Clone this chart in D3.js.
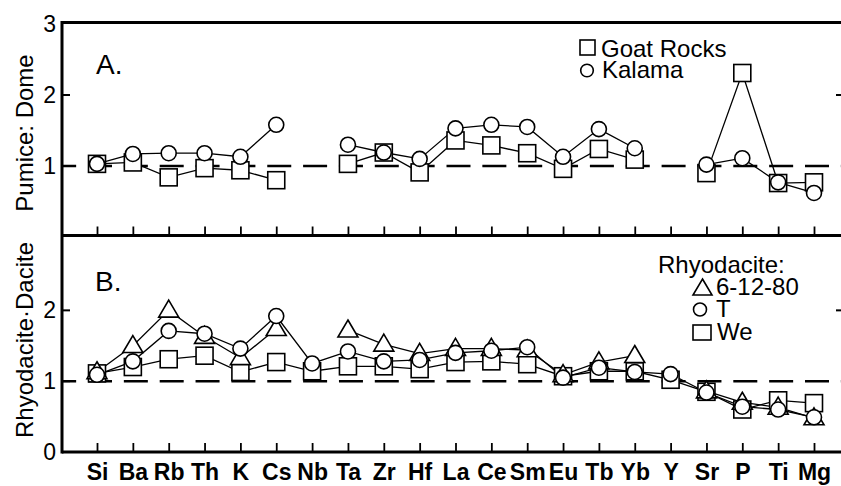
<!DOCTYPE html>
<html>
<head>
<meta charset="utf-8">
<script src="https://cdn.jsdelivr.net/npm/d3@7"></script>
<style>
  html, body { margin: 0; padding: 0; background: #fff; }
  svg { display: block; font-family: "Liberation Sans", Arial, Helvetica, sans-serif; }
</style>
</head>
<body>
<svg id="chart" width="841" height="486"></svg>
<script>
// ---------- data ----------
const categories = ["Si","Ba","Rb","Th","K","Cs","Nb","Ta","Zr","Hf","La","Ce","Sm","Eu","Tb","Yb","Y","Sr","P","Ti","Mg"];

// Panel A: Pumice : Dome
const goatRocks = [1.03,1.05,0.84,0.97,0.94,0.80,null,1.03,1.19,0.91,1.36,1.29,1.18,0.96,1.24,1.09,null,0.90,2.31,0.76,0.77];
const kalama    = [1.03,1.17,1.18,1.18,1.13,1.58,null,1.30,1.19,1.10,1.53,1.58,1.55,1.13,1.52,1.25,null,1.02,1.11,0.77,0.62];

// Panel B: Rhyodacite : Dacite
const rhy61280 = [1.13,1.50,2.00,1.63,1.33,1.74,null,1.72,1.52,1.39,1.46,1.46,1.44,1.09,1.27,1.36,null,0.86,0.70,0.63,0.48];
const rhyT     = [1.09,1.28,1.71,1.67,1.46,1.92,1.25,1.42,1.28,1.30,1.40,1.43,1.48,1.05,1.19,1.13,1.10,0.84,0.64,0.60,0.49];
const rhyWe    = [1.11,1.20,1.31,1.36,1.13,1.27,1.14,1.21,1.21,1.17,1.27,1.28,1.24,1.07,1.14,1.14,1.02,0.85,0.60,0.73,0.69];

const yTicksA = [1, 2, 3];
const yTicksB = [0, 1, 2];

// ---------- layout ----------
const svg = d3.select("#chart");
const xLeft = 62, xRight = 841;
const x = d3.scalePoint().domain(categories).range([97, 814]);

const yA = d3.scaleLinear().domain([0, 3]).range([237, 24]);
const yB = d3.scaleLinear().domain([0, 3.05]).range([452, 236]);

const font = '"Liberation Sans", Arial, Helvetica, sans-serif';

// ---------- markers ----------
function drawMarker(g, shape, cx, cy) {
  if (shape === "square") {
    const h = 8.5;
    g.append("rect").attr("x", cx - h).attr("y", cy - h).attr("width", 2 * h).attr("height", 2 * h)
      .attr("fill", "#fff").attr("stroke", "#000").attr("stroke-width", 1.6);
  } else if (shape === "circle") {
    g.append("circle").attr("cx", cx).attr("cy", cy).attr("r", 7.5)
      .attr("fill", "#fff").attr("stroke", "#000").attr("stroke-width", 1.6);
  } else if (shape === "triangle") {
    const w = 10, h = 17;
    const pts = [[cx, cy - h * 0.6], [cx + w, cy + h * 0.4], [cx - w, cy + h * 0.4]];
    g.append("path").attr("d", "M" + pts.map(p => p.join(",")).join("L") + "Z")
      .attr("fill", "#fff").attr("stroke", "#000").attr("stroke-width", 1.6);
  }
}

function drawSeries(values, y) {
  const pts = categories.map((c, i) => ({ c, v: values[i] }));
  const line = d3.line()
    .defined(d => d.v !== null)
    .x(d => x(d.c)).y(d => y(d.v));
  svg.append("path").datum(pts).attr("d", line)
    .attr("fill", "none").attr("stroke", "#000").attr("stroke-width", 1.3);
  return pts;
}
function drawMarkers(pts, y, shape) {
  const g = svg.append("g");
  pts.filter(d => d.v !== null).forEach(d => drawMarker(g, shape, x(d.c), y(d.v)));
}

// ---------- reference dashed lines ----------
function dashedOne(y) {
  svg.append("line").attr("x1", xLeft).attr("x2", xRight)
    .attr("y1", y(1)).attr("y2", y(1))
    .attr("stroke", "#000").attr("stroke-width", 2.6)
    .attr("stroke-dasharray", "24,11.85").attr("stroke-dashoffset", 9.85);
}
dashedOne(yA);
dashedOne(yB);

// ---------- panel A series ----------
const pGR = drawSeries(goatRocks, yA);
const pKa = drawSeries(kalama, yA);
drawMarkers(pGR, yA, "square");
drawMarkers(pKa, yA, "circle");

// ---------- panel B series ----------
const pWe = drawSeries(rhyWe, yB);
const pTr = drawSeries(rhy61280, yB);
const pT  = drawSeries(rhyT, yB);
drawMarkers(pWe, yB, "square");
drawMarkers(pTr, yB, "triangle");
drawMarkers(pT, yB, "circle");

// ---------- frame ----------
const frame = svg.append("g").attr("stroke", "#000").attr("stroke-width", 3).attr("fill", "none");
frame.append("line").attr("x1", xLeft).attr("x2", xRight).attr("y1", 22.5).attr("y2", 22.5);
frame.append("line").attr("x1", xLeft).attr("x2", xRight).attr("y1", 235.5).attr("y2", 235.5);
frame.append("line").attr("x1", xLeft).attr("x2", xRight).attr("y1", 452).attr("y2", 452);
frame.append("line").attr("x1", xLeft).attr("x2", xLeft).attr("y1", 21).attr("y2", 453.5);

// x ticks (inward, pointing up) using axis generator
const xAxisA = d3.axisBottom(x).tickSize(-9).tickFormat("");
const gxa = svg.append("g").attr("transform", "translate(0,235.5)").call(xAxisA);
gxa.select(".domain").remove();
gxa.selectAll(".tick line").attr("stroke", "#000").attr("stroke-width", 1.8);

const xAxisB = d3.axisBottom(x).tickSize(-9);
const gxb = svg.append("g").attr("transform", "translate(0,452)").call(xAxisB);
gxb.select(".domain").remove();
gxb.selectAll(".tick line").attr("stroke", "#000").attr("stroke-width", 1.8);
gxb.selectAll(".tick text")
  .attr("font-family", font).attr("font-size", 23).attr("font-weight", "bold")
  .attr("fill", "#000").attr("y", 27.5).attr("dy", 0);

// y axes (labels + short inward ticks)
function yAxis(y, ticks) {
  const ax = d3.axisLeft(y).tickValues(ticks).tickSize(0).tickPadding(5).tickFormat(d3.format("d"));
  const g = svg.append("g").attr("transform", "translate(" + (xLeft - 1) + ",0)").call(ax);
  g.select(".domain").remove();
  g.selectAll(".tick text").attr("font-family", font).attr("font-size", 23).attr("fill", "#000");
  const tk = ticks.filter(t => t === 1 || t === 2);
  svg.append("g").selectAll("line").data(tk).join("line")
    .attr("x1", xLeft).attr("x2", xLeft + 8)
    .attr("y1", d => y(d)).attr("y2", d => y(d))
    .attr("stroke", "#000").attr("stroke-width", 2);
  // right-side ticks at 2 (right axis lies beyond the cropped edge)
  svg.append("line").attr("x1", xRight - 5).attr("x2", xRight)
    .attr("y1", y(2)).attr("y2", y(2)).attr("stroke", "#000").attr("stroke-width", 2);
}
yAxis(yA, yTicksA);
yAxis(yB, yTicksB);

// ---------- axis titles ----------
svg.append("text").attr("transform", "translate(33,133) rotate(-90)")
  .attr("text-anchor", "middle").attr("font-family", font).attr("font-size", 24)
  .text("Pumice: Dome");
svg.append("text").attr("transform", "translate(33,340) rotate(-90)")
  .attr("text-anchor", "middle").attr("font-family", font).attr("font-size", 24)
  .text("Rhyodacite·Dacite");

// ---------- panel labels ----------
svg.append("text").attr("x", 96).attr("y", 74).attr("font-family", font).attr("font-size", 28).text("A.");
svg.append("text").attr("x", 95).attr("y", 291).attr("font-family", font).attr("font-size", 28).text("B.");

// ---------- legends ----------
const legA = svg.append("g");
legA.append("rect").attr("x", 580).attr("y", 40).attr("width", 15).attr("height", 15)
  .attr("fill", "#fff").attr("stroke", "#000").attr("stroke-width", 1.6);
legA.append("text").attr("x", 601).attr("y", 56.5).attr("font-family", font).attr("font-size", 24).text("Goat Rocks");
legA.append("circle").attr("cx", 587).attr("cy", 70.5).attr("r", 6.3)
  .attr("fill", "#fff").attr("stroke", "#000").attr("stroke-width", 1.6);
legA.append("text").attr("x", 602).attr("y", 78.3).attr("font-family", font).attr("font-size", 24).text("Kalama");

const legB = svg.append("g");
legB.append("text").attr("x", 658).attr("y", 272.5).attr("font-family", font).attr("font-size", 24).text("Rhyodacite:");
legB.append("path").attr("d", "M702.5,279L712,295L693,295Z")
  .attr("fill", "#fff").attr("stroke", "#000").attr("stroke-width", 1.6);
legB.append("text").attr("x", 716).attr("y", 294.5).attr("font-family", font).attr("font-size", 24).text("6-12-80");
legB.append("circle").attr("cx", 700).attr("cy", 309.5).attr("r", 6.5)
  .attr("fill", "#fff").attr("stroke", "#000").attr("stroke-width", 1.6);
legB.append("text").attr("x", 716).attr("y", 316.5).attr("font-family", font).attr("font-size", 24).text("T");
legB.append("rect").attr("x", 693).attr("y", 325).attr("width", 18).attr("height", 15)
  .attr("fill", "#fff").attr("stroke", "#000").attr("stroke-width", 1.6);
legB.append("text").attr("x", 717).attr("y", 340).attr("font-family", font).attr("font-size", 24).text("We");
</script>
</body>
</html>
